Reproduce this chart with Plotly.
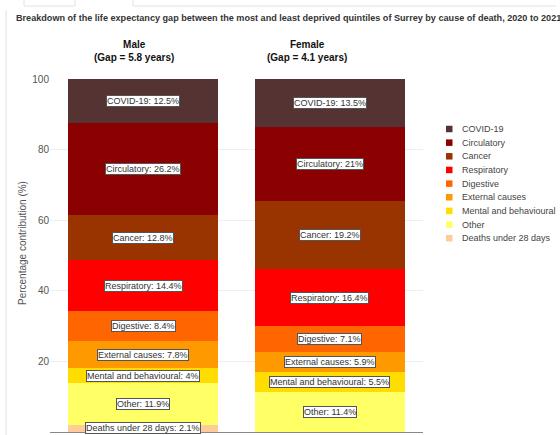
import plotly.graph_objects as go

sexes = ["Male", "Female"]
subtitles = ["Male<br>(Gap = 5.8 years)", "Female<br>(Gap = 4.1 years)"]
causes = ["Deaths under 28 days", "Other", "Mental and behavioural", "External causes",
          "Digestive", "Respiratory", "Cancer", "Circulatory", "COVID-19"]
male = [2.1, 11.9, 4.0, 7.8, 8.4, 14.4, 12.8, 26.2, 12.5]
female = [0.0, 11.4, 5.5, 5.9, 7.1, 16.4, 19.2, 21.0, 13.5]
colors = ["#FFCC99", "#FFFF66", "#FFDD00", "#FF9900", "#FF6600", "#FF0000",
          "#993300", "#8B0000", "#553333"]
yticks = [0, 20, 40, 60, 80, 100]
title = ("Breakdown of the life expectancy gap between the most and least deprived "
         "quintiles of Surrey by cause of death, 2020 to 2021")

# layout in pixels
W, H = 560, 435
L, R, T, B = 50, 137, 79, 3
PW, PH = W - L - R, H - T - B


def px(x):
    return (x - L) / PW


def py(y):
    return (H - B - y) / PH


FONT = "Liberation Sans, Arial, sans-serif"

fig = go.Figure()
for i, c in enumerate(causes):
    fig.add_trace(go.Bar(
        x=sexes, y=[male[i], female[i]], name=c,
        marker=dict(color=colors[i], line=dict(width=0)),
        showlegend=False, hoverinfo="skip",
    ))

annotations = []
# segment labels
for vals, sx in ((male, sexes[0]), (female, sexes[1])):
    base = 0.0
    for i, c in enumerate(causes):
        v = vals[i]
        if v > 0:
            lbl = f"{v:g}%"
            annotations.append(dict(
                x=sx, y=base + v / 2, xref="x", yref="y",
                text=f"{c}: {lbl}", showarrow=False,
                font=dict(family=FONT, size=9, color="#333"),
                bgcolor="white", bordercolor="#555", borderwidth=1, borderpad=0,
            ))
        base += v

# title
annotations.append(dict(x=px(14), y=py(18), xref="paper", yref="paper", xanchor="left",
                        yanchor="middle", text=f"<b>{title}</b>", showarrow=False,
                        font=dict(family=FONT, size=9.1, color="#333")))
# panel titles
for sub, cx in zip(subtitles, (134, 307)):
    annotations.append(dict(x=px(cx), y=py(50.5), xref="paper", yref="paper",
                            xanchor="center", yanchor="middle",
                            text="<b>" + sub.replace("<br>", "</b><br><b>") + "</b>",
                            showarrow=False,
                            font=dict(family=FONT, size=10, color="#111")))
# y title
annotations.append(dict(x=px(22), y=py(243), xref="paper", yref="paper",
                        xanchor="center", yanchor="middle", textangle=-90,
                        text="Percentage contribution (%)", showarrow=False,
                        font=dict(family=FONT, size=10, color="#555")))

shapes = []
# custom legend (top item first)
leg_y0, leg_dy = 129, 13.65
for k, i in enumerate(reversed(range(len(causes)))):
    yy = leg_y0 + k * leg_dy
    shapes.append(dict(type="rect", xref="paper", yref="paper",
                       x0=px(446), x1=px(452.5), y0=py(yy - 3.25), y1=py(yy + 3.25),
                       fillcolor=colors[i], line=dict(width=0)))
    annotations.append(dict(x=px(460), y=py(yy), xref="paper", yref="paper",
                            xanchor="left", yanchor="middle", text=causes[i],
                            showarrow=False,
                            font=dict(family=FONT, size=9, color="#444")))

# page decorations (tab borders)
deco = [((24, 0), (24, 6)), ((24, 6), (75, 6)), ((75, 6), (75, 0)),
        ((133, 0), (133, 6)), ((133, 6), (556, 6)), ((6, 10), (6, 435))]
for (x0, y0), (x1, y1) in deco:
    shapes.append(dict(type="line", xref="paper", yref="paper",
                       x0=px(x0), y0=py(y0), x1=px(x1), y1=py(y1),
                       line=dict(color="#e2e2e2", width=1)))

fig.update_layout(
    width=W, height=H,
    margin=dict(l=L, r=R, t=T, b=B),
    barmode="stack", bargap=0.194,
    plot_bgcolor="white", paper_bgcolor="white",
    showlegend=False,
    annotations=annotations, shapes=shapes,
    font=dict(family=FONT),
)
fig.update_xaxes(showticklabels=False, showgrid=False, showline=True,
                 linecolor="#888", linewidth=1, ticks="", range=[-0.5, 1.5])
fig.update_yaxes(range=[0, 100], tickvals=yticks, showgrid=True, gridcolor="#eeeeee",
                 zeroline=False, showline=False, ticks="",
                 tickfont=dict(family=FONT, size=10, color="#555"))

fig.write_html("out.html")
